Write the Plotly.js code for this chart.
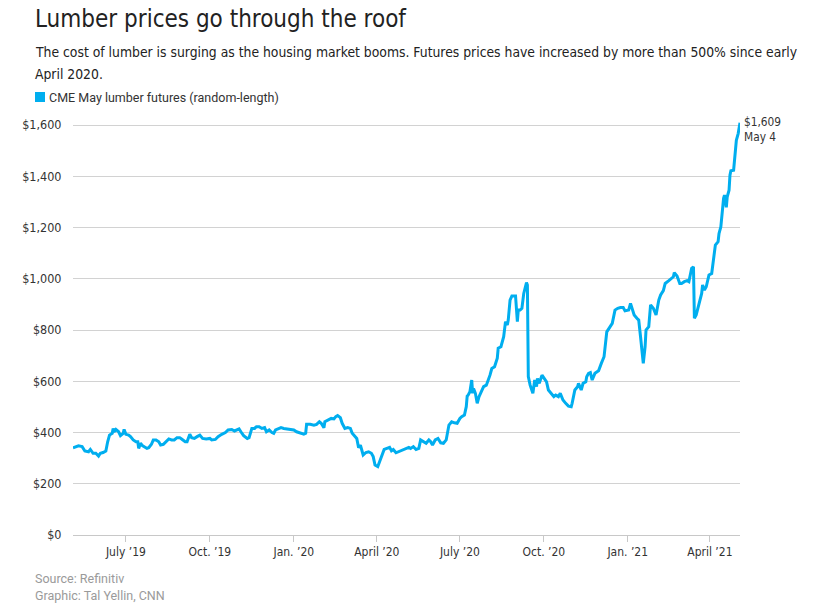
<!DOCTYPE html>
<html>
<head>
<meta charset="utf-8">
<script src="https://cdn.plot.ly/plotly-3.0.1.min.js"></script>
<style>
  html, body { margin: 0; padding: 0; background: #fff; }
  #chart { width: 821px; height: 616px; }
</style>
</head>
<body>
<div id="chart"></div>
<script>
// ---- Data ----
const dates = [
  '2019-05-04','2019-05-10','2019-05-14','2019-05-17','2019-05-21','2019-05-23','2019-05-26','2019-05-29',
  '2019-06-01','2019-06-03','2019-06-06','2019-06-09','2019-06-11','2019-06-13','2019-06-16','2019-06-17',
  '2019-06-18','2019-06-20','2019-06-23','2019-06-25','2019-06-28','2019-06-29','2019-07-01','2019-07-04',
  '2019-07-06','2019-07-09','2019-07-12','2019-07-14','2019-07-15','2019-07-17','2019-07-19','2019-07-22',
  '2019-07-24','2019-07-26','2019-07-29','2019-07-31','2019-08-03','2019-08-06','2019-08-08','2019-08-11',
  '2019-08-14','2019-08-17','2019-08-20','2019-08-23','2019-08-26','2019-08-29','2019-08-31','2019-09-04',
  '2019-09-06','2019-09-09','2019-09-11','2019-09-14','2019-09-17','2019-09-20','2019-09-23','2019-09-27',
  '2019-10-01','2019-10-03','2019-10-07','2019-10-10','2019-10-14','2019-10-18','2019-10-21','2019-10-25',
  '2019-10-28','2019-10-31','2019-11-02','2019-11-04','2019-11-07','2019-11-11','2019-11-13','2019-11-16',
  '2019-11-19','2019-11-21','2019-11-24','2019-11-27','2019-11-30','2019-12-02','2019-12-05','2019-12-08',
  '2019-12-10','2019-12-12','2019-12-15','2019-12-18','2019-12-21','2019-12-24','2019-12-28','2020-01-01',
  '2020-01-04','2020-01-08','2020-01-12','2020-01-14','2020-01-15','2020-01-19','2020-01-23','2020-01-26',
  '2020-01-29','2020-01-31','2020-02-03','2020-02-04','2020-02-08','2020-02-11','2020-02-14','2020-02-16',
  '2020-02-18','2020-02-21','2020-02-23','2020-02-26','2020-02-29','2020-03-03','2020-03-05','2020-03-08',
  '2020-03-10','2020-03-12','2020-03-14','2020-03-16','2020-03-17','2020-03-20','2020-03-23','2020-03-26',
  '2020-03-28','2020-03-30','2020-04-02','2020-04-04','2020-04-07','2020-04-09','2020-04-12','2020-04-15',
  '2020-04-17','2020-04-19','2020-04-22','2020-04-25','2020-04-28','2020-05-02','2020-05-06','2020-05-08',
  '2020-05-11','2020-05-14','2020-05-17','2020-05-19','2020-05-22','2020-05-25','2020-05-28','2020-05-30',
  '2020-06-01','2020-06-04','2020-06-07','2020-06-10','2020-06-13','2020-06-16','2020-06-19','2020-06-22',
  '2020-06-25','2020-06-28','2020-07-01','2020-07-03','2020-07-06','2020-07-08','2020-07-09','2020-07-10',
  '2020-07-12','2020-07-14','2020-07-15','2020-07-16','2020-07-18','2020-07-20','2020-07-22','2020-07-25',
  '2020-07-27','2020-07-30','2020-08-01','2020-08-03','2020-08-05','2020-08-08','2020-08-11','2020-08-12',
  '2020-08-15','2020-08-18','2020-08-20','2020-08-22','2020-08-23','2020-08-25','2020-08-27','2020-08-31',
  '2020-09-02','2020-09-03','2020-09-05','2020-09-07','2020-09-09','2020-09-10','2020-09-12','2020-09-13',
  '2020-09-14','2020-09-16','2020-09-18','2020-09-19','2020-09-21','2020-09-23','2020-09-24','2020-09-26',
  '2020-09-29','2020-10-02','2020-10-04','2020-10-06','2020-10-09','2020-10-12','2020-10-14','2020-10-17',
  '2020-10-19','2020-10-22','2020-10-25','2020-10-28','2020-10-31','2020-11-01','2020-11-04','2020-11-07',
  '2020-11-08','2020-11-11','2020-11-13','2020-11-16','2020-11-17','2020-11-19','2020-11-21','2020-11-23',
  '2020-11-26','2020-11-30','2020-12-03','2020-12-06','2020-12-09','2020-12-13','2020-12-15','2020-12-18',
  '2020-12-21','2020-12-24','2020-12-27','2020-12-29','2021-01-02','2021-01-04','2021-01-06','2021-01-08',
  '2021-01-11','2021-01-13','2021-01-15','2021-01-17','2021-01-18','2021-01-20','2021-01-21','2021-01-24',
  '2021-01-26','2021-01-29','2021-02-01','2021-02-04','2021-02-06','2021-02-09','2021-02-11','2021-02-15',
  '2021-02-17','2021-02-20','2021-02-21','2021-02-24','2021-02-27','2021-03-01','2021-03-04','2021-03-07',
  '2021-03-09','2021-03-11','2021-03-12','2021-03-14','2021-03-15','2021-03-17','2021-03-19','2021-03-21',
  '2021-03-23','2021-03-24','2021-03-26','2021-03-28','2021-03-31','2021-04-03','2021-04-05','2021-04-07',
  '2021-04-10','2021-04-11','2021-04-13','2021-04-15','2021-04-16','2021-04-17','2021-04-19','2021-04-20',
  '2021-04-22','2021-04-23','2021-04-24','2021-04-27','2021-04-29','2021-04-30','2021-05-02','2021-05-04'
];
const prices = [
  340,348,345,328,325,334,319,319,
  308,319,322,328,364,390,397,416,
  403,412,403,388,397,412,393,390,
  384,371,364,364,338,358,349,341,
  338,341,354,371,371,364,351,354,
  364,375,371,371,380,380,375,364,
  364,393,380,377,384,390,377,375,
  377,371,373,384,393,400,410,412,
  406,410,414,403,388,377,380,416,
  416,423,423,416,419,403,410,400,
  397,410,414,419,416,414,412,410,
  403,397,394,397,432,432,429,432,
  442,436,419,442,449,455,453,462,
  466,458,436,416,419,416,397,384,
  377,341,351,325,312,322,325,319,
  306,273,267,286,319,334,338,342,
  329,334,321,325,329,334,342,338,
  345,334,338,371,364,358,371,364,
  351,371,377,360,358,371,429,442,
  438,436,455,462,468,501,542,546,
  559,605,553,572,553,514,540,566,
  579,585,602,624,650,657,690,729,
  735,774,833,820,839,917,933,933,
  833,878,878,885,943,956,985,976,
  618,585,566,553,605,579,611,592,
  624,605,598,566,553,540,546,540,
  553,527,514,503,501,514,566,579,
  592,566,592,598,618,631,634,605,
  631,641,670,696,793,813,826,878,
  885,888,888,875,878,904,885,859,
  846,839,774,696,670,735,800,813,
  898,885,859,917,937,954,982,993,
  998,1008,1024,1011,982,982,989,993,
  989,1021,1041,1047,846,859,891,917,
  943,976,956,969,1015,1021,1073,1132,
  1145,1177,1203,1281,1314,1327,1279,1320,
  1346,1405,1422,1424,1502,1541,1567,1609
];
const seriesName = 'CME May lumber futures (random-length)';
const xTickVals = ['2019-07-01','2019-10-01','2020-01-01','2020-04-01','2020-07-01','2020-10-01','2021-01-01','2021-04-01'];
const xTickText = ['July \u201919','Oct. \u201919','Jan. \u201920','April \u201920','July \u201920','Oct. \u201920','Jan. \u201921','April \u201921'];
const yTickVals = [0,200,400,600,800,1000,1200,1400,1600];
const yTickText = ['$0','$200','$400','$600','$800','$1,000','$1,200','$1,400','$1,600'];
const lastLabel = '$1,609';
const lastDate = 'May 4';

// ---- Styling ----
const NARROW = "'Liberation Sans Narrow', 'DejaVu Sans Condensed', 'Roboto Condensed', Roboto, sans-serif";
const REG = "Roboto, 'Liberation Sans', sans-serif";
const BLUE = '#00AEEF';

const L = 73, R = 81, T = 120, B = 81;
const PW = 821 - L - R, PH = 616 - T - B;
const px = v => (v - L) / PW;
const py = v => (616 - B - v) / PH;

const trace = {
  type: 'scatter', mode: 'lines', x: dates, y: prices, name: seriesName,
  line: { color: BLUE, width: 3, shape: 'linear' },
  hoverinfo: 'x+y', showlegend: false
};

const layout = {
  width: 821, height: 616,
  margin: { l: L, r: R, t: T, b: B, pad: 0 },
  paper_bgcolor: '#fff', plot_bgcolor: '#fff',
  showlegend: false,
  title: {
    text: 'Lumber prices go through the roof',
    font: { family: NARROW, size: 24, color: '#222' },
    x: 35 / 821, xanchor: 'left', xref: 'container',
    y: 1 - 19 / 616, yanchor: 'middle', yref: 'container'
  },
  xaxis: {
    type: 'date',
    range: ['2019-05-04', '2021-05-04'],
    tickmode: 'array', tickvals: xTickVals, ticktext: xTickText,
    ticks: 'outside', ticklen: 6, tickwidth: 1, tickcolor: '#c8c8c8',
    showgrid: false, zeroline: false, showline: false,
    tickfont: { family: NARROW, size: 12, color: '#333' },
    fixedrange: true
  },
  yaxis: {
    range: [0, 1620],
    tickmode: 'array', tickvals: yTickVals, ticktext: yTickText,
    ticks: 'outside', ticklen: 8, tickcolor: 'rgba(0,0,0,0)',
    showgrid: true, gridcolor: '#d2d2d2', gridwidth: 1,
    zeroline: true, zerolinecolor: '#c8c8c8', zerolinewidth: 1,
    showline: false,
    tickfont: { family: NARROW, size: 12.5, color: '#333' },
    fixedrange: true
  },
  shapes: [
    { type: 'rect', xref: 'paper', yref: 'paper',
      x0: px(35), x1: px(45), y0: py(102), y1: py(92),
      fillcolor: BLUE, line: { width: 0 } }
  ],
  annotations: [
    { xref: 'paper', yref: 'paper', x: px(33), y: py(52), xanchor: 'left', yanchor: 'middle',
      align: 'left', showarrow: false,
      text: 'The cost of lumber is surging as the housing market booms. Futures prices have increased by more than 500% since early',
      font: { family: NARROW, size: 13.8, color: '#222' } },
    { xref: 'paper', yref: 'paper', x: px(33), y: py(74), xanchor: 'left', yanchor: 'middle',
      align: 'left', showarrow: false,
      text: 'April 2020.',
      font: { family: NARROW, size: 13.8, color: '#222' } },
    { xref: 'paper', yref: 'paper', x: px(47), y: py(97), xanchor: 'left', yanchor: 'middle',
      showarrow: false, text: seriesName,
      font: { family: REG, size: 12.5, color: '#333' } },
    { xref: 'paper', yref: 'paper', x: px(33), y: py(578), xanchor: 'left', yanchor: 'middle',
      showarrow: false, text: 'Source: Refinitiv',
      font: { family: REG, size: 12.5, color: '#9a9a9a' } },
    { xref: 'paper', yref: 'paper', x: px(33), y: py(595), xanchor: 'left', yanchor: 'middle',
      showarrow: false, text: 'Graphic: Tal Yellin, CNN',
      font: { family: REG, size: 12.5, color: '#9a9a9a' } },
    { xref: 'paper', yref: 'paper', x: px(742), y: py(122), xanchor: 'left', yanchor: 'middle',
      showarrow: false, text: lastLabel,
      font: { family: NARROW, size: 11.8, color: '#333' } },
    { xref: 'paper', yref: 'paper', x: px(742), y: py(137), xanchor: 'left', yanchor: 'middle',
      showarrow: false, text: lastDate,
      font: { family: NARROW, size: 11.8, color: '#333' } }
  ]
};

Plotly.newPlot('chart', [trace], layout, { displayModeBar: false, staticPlot: true });
</script>
</body>
</html>
